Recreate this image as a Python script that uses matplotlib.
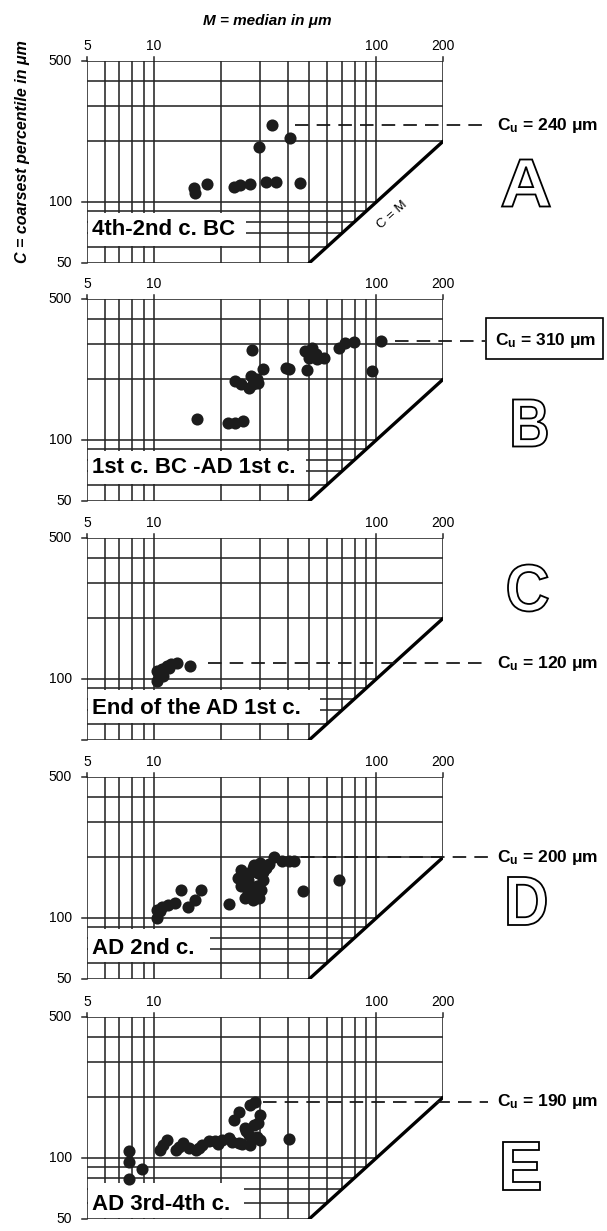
import numpy as np
import matplotlib
matplotlib.use("Agg")
import matplotlib.pyplot as plt
from matplotlib.textpath import TextPath
from matplotlib.font_manager import FontProperties
from matplotlib.patches import PathPatch, Rectangle
from matplotlib.transforms import Affine2D

plt.rcParams["font.family"] = ["Liberation Sans", "DejaVu Sans"]
plt.rcParams["mathtext.fontset"] = "custom"
plt.rcParams["mathtext.rm"] = "Liberation Sans"
plt.rcParams["mathtext.bf"] = "Liberation Sans:bold"
plt.rcParams["mathtext.it"] = "Liberation Sans:italic"

# M (median, um) and C (coarsest percentile, um) per period
m_a = [15.2, 15.3, 17.4, 23.0, 24.3, 27.2, 31.9, 35.4, 45.5, 29.7, 33.9, 41.0]
c_a = [118, 111, 123, 119, 121, 123, 126, 126, 125, 188, 240, 209]

m_b = [15.6, 21.5, 23.1, 25.2, 27.7, 23.1, 24.7, 26.9, 27.4, 29.1, 29.5, 30.9,
       27.8, 39.2, 40.6, 47.7, 51.6, 49.9, 54.4, 58.2, 48.7, 53.4, 67.9, 72.7,
       79.2, 96.3, 105.0]
c_b = [127, 122, 122, 124, 280, 197, 189, 182, 208, 200, 193, 225, 189, 228, 225,
       275, 286, 256, 251, 256, 222, 266, 285, 302, 308, 220, 310]

m_c = [10.3, 10.3, 10.5, 10.9, 11.4, 12.0, 12.7, 14.5, 11.0, 11.7]
c_c = [98, 110, 106, 112, 116, 119, 120, 116, 104, 113]

m_d = [10.3, 10.3, 10.7, 10.9, 11.6, 12.4, 13.3, 14.3, 15.3, 16.3, 21.7, 24.7,
       23.9, 24.7, 26.5, 27.8, 29.8, 30.3, 30.9, 28.3, 29.3, 26.5, 27.4, 31.9,
       34.8, 37.9, 40.6, 42.6, 25.6, 46.9, 68.4, 25.5, 27.0, 28.5, 29.0, 26.0,
       28.0, 31.0, 33.0, 30.0]
c_d = [100, 110, 108, 114, 116, 119, 138, 114, 123, 138, 117, 174, 158, 144, 133,
       123, 126, 138, 155, 184, 167, 155, 170, 177, 200, 191, 191, 191, 126, 137,
       155, 150, 140, 130, 145, 165, 178, 170, 185, 188]

m_e = [7.7, 7.7, 7.7, 8.8, 10.6, 11.5, 12.6, 13.5, 14.4, 15.4, 16.5, 17.7, 18.9,
       20.3, 21.8, 22.9, 24.1, 24.1, 26.7, 27.2, 28.2, 30.1, 28.6, 30.1, 27.2,
       25.8, 40.6, 11.0, 13.0, 16.0, 19.5, 22.5, 25.0, 29.0, 26.0, 29.5]
c_e = [109, 96, 79, 88, 110, 123, 110, 119, 112, 110, 116, 121, 121, 123, 126,
       155, 170, 119, 130, 184, 146, 164, 190, 123, 116, 141, 124, 116, 114, 112,
       118, 120, 118, 128, 136, 150]

periods = ["4th-2nd c. BC", "1st c. BC -AD 1st c.", "End of the AD 1st c.",
           "AD 2nd c.", "AD 3rd-4th c."]
letters = ["A", "B", "C", "D", "E"]
cu_values = [240, 310, 120, 200, 190]
cu_start = [43, 121, 17.5, 46, 31]

x_grid = [5, 6, 7, 8, 9, 10, 20, 30, 40, 50, 60, 70, 80, 90, 100, 200]
y_grid = [50, 60, 70, 80, 90, 100, 200, 300, 400, 500]
x_ticks = [5, 10, 100, 200]
y_ticks = [50, 100, 500]

W, H = 607, 1231
LC = "#262626"
DOT = "#1c1c1c"

fig = plt.figure(figsize=(W / 100, H / 100), dpi=100)
fig.patch.set_facecolor("white")

tops = [61, 299, 538, 777, 1017]
box_right = [26.0, 48.5, 56.0, 17.8, 25.5]
box_y = [(61, 88), (61, 88), (61, 88), (61, 88), (50.5, 75)]
label_y = [73, 73, 72, 71, 59]
letter_pos = [(526, 183, 48, 47), (530, 423, 34, 47), (528, 588, 40, 47),
              (527, 901, 38, 48), (522, 1166, 37, 48)]
data = [(m_a, c_a), (m_b, c_b), (m_c, c_c), (m_d, c_d), (m_e, c_e)]

fprop_letter = FontProperties(family="Liberation Sans", weight="bold")


def outlined_letter(ch, cx, cy, w, h):
    tp = TextPath((0, 0), ch, size=100, prop=fprop_letter)
    bb = tp.get_extents()
    tr = (Affine2D()
          .translate(-bb.x0 - bb.width / 2, -bb.y0 - bb.height / 2)
          .scale(w / bb.width / W, h / bb.height / H)
          .translate(cx / W, 1 - cy / H))
    patch = PathPatch(tr.transform_path(tp), fc="white", ec="black", lw=1.3,
                      transform=fig.transFigure)
    fig.add_artist(patch)


for i, top in enumerate(tops):
    ax = fig.add_axes([87 / W, 1 - (top + 202) / H, 356 / W, 202 / H])
    ax.set_xscale("log")
    ax.set_yscale("log")
    ax.set_xlim(5, 200)
    ax.set_ylim(50, 500)
    ax.axis("off")

    # grid clipped by the C = M line
    for v in x_grid:
        ax.plot([v, v], [max(50, v), 500], color=LC, lw=1.15,
                solid_capstyle="butt", zorder=1)
    for h in y_grid:
        ax.plot([5, min(200, h)], [h, h], color=LC, lw=1.15,
                solid_capstyle="butt", zorder=1)
    ax.plot([50, 200], [50, 200], color="black", lw=2.4,
            solid_capstyle="round", zorder=2)

    # tick marks and labels
    for v in x_ticks:
        ax.plot([v, v], [500, 500 * 10 ** (4 / 202)], color=LC, lw=1.1,
                clip_on=False)
        ax.text(v, 500 * 10 ** (15 / 202), str(v), ha="center", va="center",
                fontsize=10)
    for h in y_ticks:
        ax.plot([5 * 10 ** (-5 / 224), 5], [h, h], color=LC, lw=1.1,
                clip_on=False)
        if i == 2 and h == 50:
            continue
        ax.text(5 * 10 ** (-15 / 224), h, str(h), ha="right", va="center",
                fontsize=10)

    # period label
    y0, y1 = box_y[i]
    ax.add_patch(Rectangle((5.05, y0), box_right[i] - 5.05, y1 - y0,
                           fc="white", ec="none", zorder=3))
    ax.text(5.25, label_y[i], periods[i], fontsize=16, fontweight="bold",
            ha="left", va="center", zorder=4)

    m, c = data[i]
    ax.scatter(m, c, s=76, color=DOT, linewidths=0, zorder=5)

    # upper limit of C
    cu = cu_values[i]
    x_end = 309 if i == 1 else 320
    ax.plot([cu_start[i], x_end], [cu, cu], color="#1a1a1a", lw=1.3,
            dashes=(7.5, 4.5), clip_on=False, zorder=4)
    ax.text(343 if i == 1 else 350, cu, r"$\mathbf{C_u}$" + f" = {cu} μm",
            fontsize=12.5, fontweight="bold", ha="left", va="center",
            clip_on=False)

    cx, cy, lw_, lh_ = letter_pos[i]
    outlined_letter(letters[i], cx, cy, lw_, lh_)

# box round the C_u label of period B
fig.add_artist(Rectangle((486 / W, 1 - 359 / H), 117 / W, 41 / H, fill=False,
                         ec="black", lw=1.2, transform=fig.transFigure))

fig.text(267 / W, 1 - 21 / H, "M = median in μm", ha="center", va="center",
         fontsize=11, fontweight="bold", fontstyle="italic")
fig.text(23 / W, 1 - 152 / H, "C = coarsest percentile in μm", ha="center",
         va="center", rotation=90, fontsize=11.5, fontweight="bold",
         fontstyle="italic")
fig.text(392 / W, 1 - 215 / H, "C = M", ha="center", va="center",
         rotation=41.6, fontsize=9.5)

fig.savefig("out.png", dpi=100)
